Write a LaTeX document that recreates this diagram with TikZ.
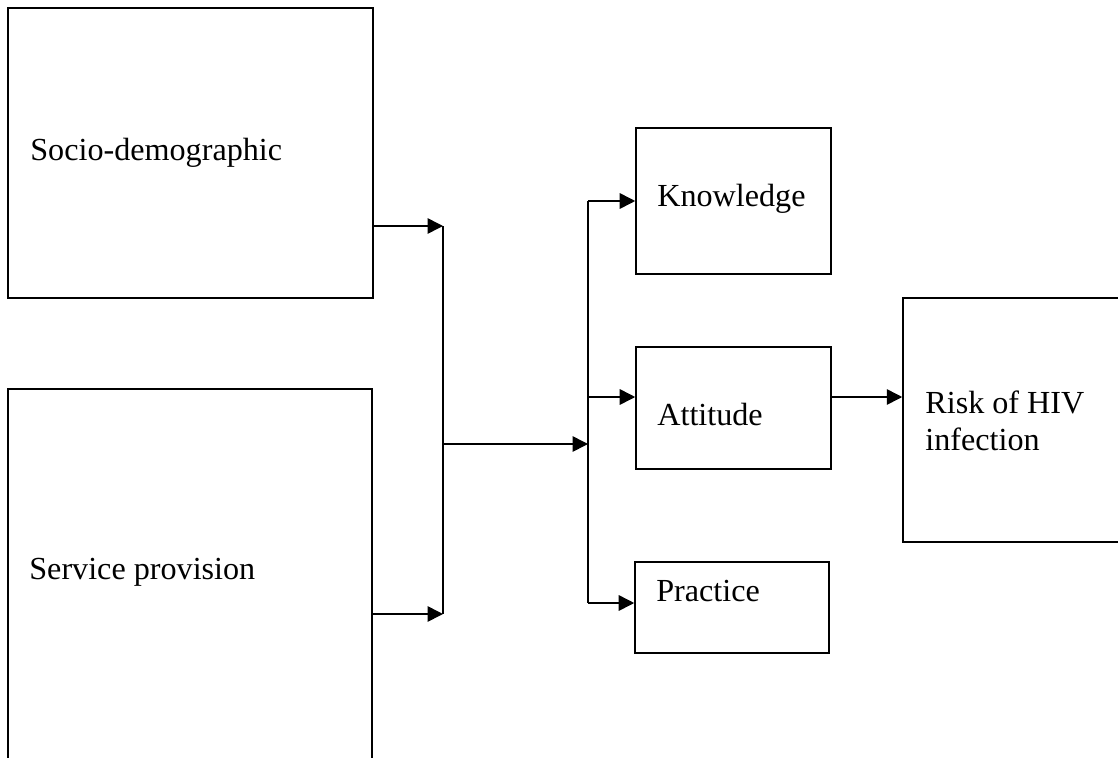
\documentclass[tikz,border=0pt]{standalone}
\usepackage{fontspec}
\setmainfont{Liberation Serif}
\usetikzlibrary{arrows.meta}

\begin{document}
\begin{tikzpicture}[x=0.02cm,y=-0.02cm,
  box/.style={draw,line width=0.9pt,rectangle,inner sep=0pt},
  lbl/.style={anchor=base west,inner sep=0pt,font=\fontsize{18.3}{21}\selectfont},
  ln/.style={line width=0.9pt},
  arr/.style={line width=0.9pt,-{Triangle[length=3.1mm,width=3.1mm]}}]

  \useasboundingbox (0,0) rectangle (1118,757);

  \node[box,minimum width=7.3cm,minimum height=5.8cm] (socio) at (190.5,153) {}; %LEFT-TOP
  \node[box,minimum width=7.28cm,minimum height=7.72cm] (serv) at (190,582) {}; %LEFT-BOTTOM
  \node[box,minimum width=3.9cm,minimum height=2.92cm] (know) at (733.5,201) {}; %MID-TOP
  \node[box,minimum width=3.9cm,minimum height=2.44cm] (att) at (733.5,408) {}; %MID
  \node[box,minimum width=3.88cm,minimum height=1.82cm] (prac) at (732,607.5) {}; %MID-BOTTOM
  \node[box,minimum width=4.54cm,minimum height=4.88cm] (risk) at (1016.5,420) {}; %RIGHT

  \node[lbl] (socio-t) at (30,160) {Socio-demographic};
  \node[lbl] (serv-t) at (29,579) {Service provision};
  \node[lbl] (know-t) at (657,206) {Knowledge};
  \node[lbl] (att-t) at (657,425) {Attitude};
  \node[lbl] (prac-t) at (656,601) {Practice};
  \node[lbl] (risk-t) at (925,413) {Risk of HIV};
  \node[lbl] (risk-t2) at (925,450) {infection};

  \coordinate (j1) at (443,226);
  \coordinate (j2) at (443,614);
  \coordinate (m1) at (443,444);
  \coordinate (m2) at (588,444);
  \coordinate (b1) at (588,201);
  \coordinate (b3) at (588,397);
  \coordinate (b2) at (588,603);

  \draw[arr] (socio.east |- j1) -- (j1); %IN-TOP
  \draw[arr] (serv.east |- j2) -- (j2); %IN-BOTTOM
  \draw[ln] (j1) -- (j2); %BAR-LEFT
  \draw[arr] (m1) -- (m2); %MIDDLE
  \draw[ln] (b1) -- (b2); %BAR-RIGHT
  \draw[arr] (b1) -- (know.west |- b1);
  \draw[arr] (b3) -- (att.west |- b3);
  \draw[arr] (b2) -- (prac.west |- b2);
  \draw[arr] (att.east |- b3) -- (risk.west |- b3); %OUT

\end{tikzpicture}
\end{document}
